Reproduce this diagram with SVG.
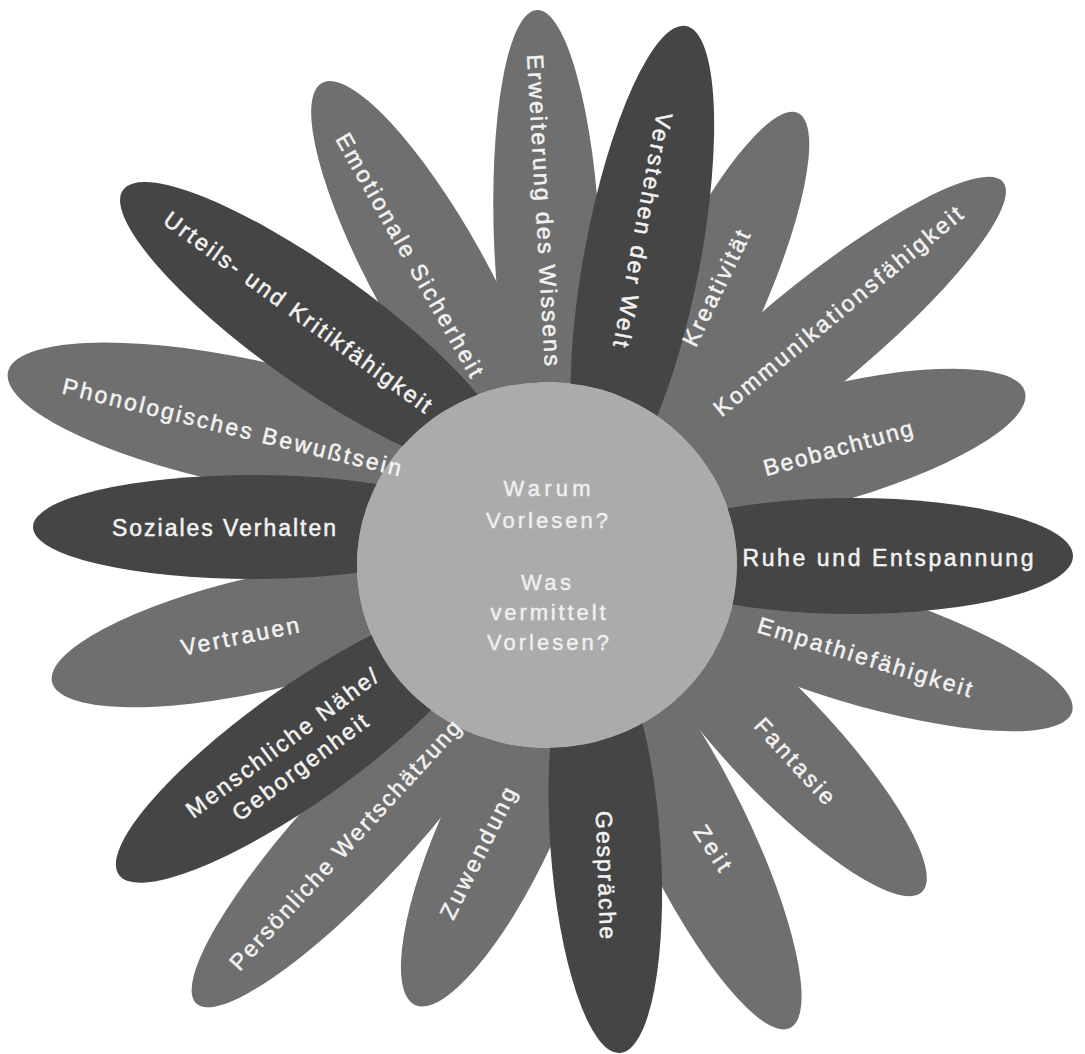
<svg xmlns="http://www.w3.org/2000/svg" width="1085" height="1054" viewBox="0 0 1085 1054">
<defs>
<clipPath id="outside"><path clip-rule="evenodd" d="M0 0H1085V1054H0Z M357 565a190 183 0 1 0 380 0a190 183 0 1 0 -380 0Z"/></clipPath>
</defs>
<style>
.mid{fill:#6f6f6f}
.dark{fill:#454545}
.hub{fill:#ababab}
.lbl{font-family:"Liberation Sans",Arial,sans-serif;font-size:23px;fill:#f2f2f2;stroke:#f2f2f2;stroke-width:0.5;text-anchor:middle}
.ctr{font-family:"Liberation Sans",Arial,sans-serif;font-size:22px;fill:#f0f0f0;stroke:#f0f0f0;stroke-width:0.4;text-anchor:middle}
</style>
<rect width="1085" height="1054" fill="#ffffff"/>
<g id="center">
<ellipse class="hub" cx="547" cy="565" rx="190" ry="183"/>
<text class="ctr" x="547" y="488" dy="0.35em" textLength="87">Warum</text>
<text class="ctr" x="547" y="520" dy="0.35em" textLength="122">Vorlesen?</text>
<text class="ctr" x="546" y="582" dy="0.35em" textLength="50">Was</text>
<text class="ctr" x="548" y="612" dy="0.35em" textLength="115">vermittelt</text>
<text class="ctr" x="548" y="642" dy="0.35em" textLength="122">Vorlesen?</text>
</g>
<g id="petals-medium" clip-path="url(#outside)">
<g id="erweiterung"><ellipse class="mid" cx="547.2" cy="244.8" rx="235" ry="53" transform="rotate(87.5 547.2 244.8)"/></g>
<g id="kreativitaet"><ellipse class="mid" cx="705" cy="312.4" rx="220" ry="52" transform="rotate(115 705 312.4)"/></g>
<g id="kommunikation"><ellipse class="mid" cx="810.1" cy="341" rx="250" ry="53" transform="rotate(140.5 810.1 341)"/></g>
<g id="beobachtung"><ellipse class="mid" cx="817.3" cy="447.6" rx="215" ry="58" transform="rotate(165 817.3 447.6)"/></g>
<g id="empathie"><ellipse class="mid" cx="852.1" cy="644.7" rx="230" ry="57" transform="rotate(197 852.1 644.7)"/></g>
<g id="fantasie"><ellipse class="mid" cx="777.4" cy="739.7" rx="210" ry="52" transform="rotate(226.5 777.4 739.7)"/></g>
<g id="zeit"><ellipse class="mid" cx="693.6" cy="830.3" rx="220" ry="54" transform="rotate(244 693.6 830.3)"/></g>
<g id="zuwendung"><ellipse class="mid" cx="499.5" cy="823.7" rx="200" ry="56" transform="rotate(295 499.5 823.7)"/></g>
<g id="wertschaetzung"><ellipse class="mid" cx="360" cy="828" rx="240" ry="54" transform="rotate(-47 360 828)"/></g>
<g id="vertrauen"><ellipse class="mid" cx="261.5" cy="633.6" rx="215" ry="57" transform="rotate(-13 261.5 633.6)"/></g>
<g id="phonologisch"><ellipse class="mid" cx="242.7" cy="421.9" rx="240" ry="63" transform="rotate(12 242.7 421.9)"/></g>
<g id="emotionale"><ellipse class="mid" cx="431.1" cy="279.8" rx="225" ry="57" transform="rotate(61 431.1 279.8)"/></g>
</g>
<g id="petals-dark" clip-path="url(#outside)">
<g id="verstehen"><ellipse class="dark" cx="642.4" cy="256.9" rx="235" ry="58" transform="rotate(100.7 642.4 256.9)"/></g>
<g id="ruhe"><ellipse class="dark" cx="853" cy="556" rx="220" ry="58"/></g>
<g id="gespraeche"><ellipse class="dark" cx="605.3" cy="843.5" rx="210" ry="55" transform="rotate(266 605.3 843.5)"/></g>
<g id="menschliche"><ellipse class="dark" cx="302" cy="744" rx="225" ry="57" transform="rotate(-35.5 302 744)"/></g>
<g id="soziales"><ellipse class="dark" cx="253" cy="527" rx="220" ry="52"/></g>
<g id="urteils"><ellipse class="dark" cx="314.3" cy="326.5" rx="235" ry="58" transform="rotate(35.5 314.3 326.5)"/></g>
</g>
<g id="labels">
<text id="t-erweiterung" class="lbl" textLength="312" transform="translate(544 210) rotate(86.7)" dy="0.35em">Erweiterung des Wissens</text>
<text id="t-verstehen" class="lbl" textLength="238" transform="translate(643 230) rotate(100.6)" dy="0.35em">Verstehen der Welt</text>
<text id="t-kreativitaet" class="lbl" textLength="126" transform="translate(716 288) rotate(-64)" dy="0.35em">Kreativität</text>
<text id="t-kommunikation" class="lbl" textLength="315" transform="translate(838 311) rotate(-39.5)" dy="0.35em">Kommunikationsfähigkeit</text>
<text id="t-beobachtung" class="lbl" textLength="154" transform="translate(838 448) rotate(-15.5)" dy="0.35em">Beobachtung</text>
<text id="t-ruhe" class="lbl" textLength="291" transform="translate(888 558)" dy="0.35em">Ruhe und Entspannung</text>
<text id="t-empathie" class="lbl" textLength="223" transform="translate(865 657) rotate(17)" dy="0.35em">Empathiefähigkeit</text>
<text id="t-fantasie" class="lbl" textLength="108" transform="translate(795 761) rotate(47.6)" dy="0.35em">Fantasie</text>
<text id="t-zeit" class="lbl" textLength="50" transform="translate(713 848) rotate(57)" dy="0.35em">Zeit</text>
<text id="t-gespraeche" class="lbl" textLength="128" transform="translate(606 875) rotate(88)" dy="0.35em">Gespräche</text>
<text id="t-zuwendung" class="lbl" textLength="144" transform="translate(478 853) rotate(-63.6)" dy="0.35em">Zuwendung</text>
<text id="t-wertschaetzung" class="lbl" textLength="330" transform="translate(345 845) rotate(-47.5)" dy="0.35em">Persönliche Wertschätzung</text>
<text id="t-menschliche1" class="lbl" textLength="233" transform="translate(282 743) rotate(-36.6)" dy="0.35em">Menschliche Nähe/</text>
<text id="t-menschliche2" class="lbl" textLength="163" transform="translate(300 767) rotate(-36.6)" dy="0.35em">Geborgenheit</text>
<text id="t-vertrauen" class="lbl" textLength="120" transform="translate(240 636) rotate(-11.3)" dy="0.35em">Vertrauen</text>
<text id="t-soziales" class="lbl" textLength="224" transform="translate(224 528)" dy="0.35em">Soziales Verhalten</text>
<text id="t-phonologisch" class="lbl" textLength="348" transform="translate(232 427) rotate(13.8)" dy="0.35em">Phonologisches Bewußtsein</text>
<text id="t-urteils" class="lbl" textLength="325" transform="translate(298 312) rotate(36)" dy="0.35em">Urteils- und Kritikfähigkeit</text>
<text id="t-emotionale" class="lbl" textLength="276" transform="translate(410 255) rotate(60.5)" dy="0.35em">Emotionale Sicherheit</text>
</g>
<g id="connectors"/>
</svg>
